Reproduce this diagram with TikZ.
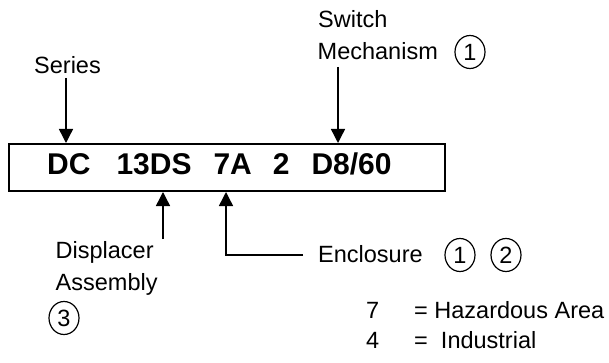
\documentclass[tikz,border=0pt]{standalone}
\usepackage{fontspec}
\setmainfont{Liberation Sans}
\usetikzlibrary{arrows.meta,shapes.geometric}
\begin{document}
\begin{tikzpicture}[x=1pt,y=-1pt,
  lbl/.style={anchor=base west,inner sep=0pt,font=\fontsize{23.5}{28}\selectfont},
  num/.style={draw,ellipse,line width=1.2pt,inner sep=0pt,minimum width=30pt,minimum height=33pt,font=\fontsize{23.5}{28}\selectfont},
  arr/.style={line width=1.4pt,-{Triangle[length=14pt,width=14pt]}},
  codebox/.style={draw,line width=2pt,anchor=north west,inner sep=0pt,minimum width=436pt,minimum height=47pt}]
\useasboundingbox (0,0) rectangle (609,363);
% main box and code
\node[codebox] (box) at (8,143) {};
\node[anchor=base west,inner sep=0pt,font=\fontsize{30}{32}\bfseries\selectfont] (code) at (47,174.5)
  {DC\hspace{26pt}13DS\hspace{22pt}7A\hspace{21pt}2\hspace{22pt}D8/60};
% labels
\node[lbl] (series) at (34,74) {Series};
\node[lbl] (switch) at (318,28) {Switch};
\node[lbl] (mech) at (317.5,60) {Mechanism};
\node[num] (c1a) at (470,52) {1};
\node[lbl] (disp) at (55.5,258) {Displacer};
\node[lbl] (assy) at (55.5,290) {Assembly};
\node[num] (c3) at (64,318) {3};
\node[lbl] (encl) at (318,262) {Enclosure};
\node[num] (c1b) at (460,255) {1};
\node[num] (c2) at (506,255) {2};
\node[lbl] (seven) at (366,318) {7};
\node[lbl] (haz) at (414,318) {= Hazardous Area};
\node[lbl] (four) at (366,348) {4};
\node[lbl] (ind) at (414,348) {=~ Industrial};
% connector anchors
\coordinate (sertop) at (66,78);
\coordinate (swtop) at (338,67);
\coordinate (distop) at (163,239);
\coordinate (encend) at (303,255);
\coordinate (enccorner) at (226,255);
% arrows
\draw[arr] (sertop) -- (sertop |- box.north);
\draw[arr] (swtop) -- (swtop |- box.north);
\draw[arr] (distop) -- (distop |- box.south);
\draw[arr] (encend) -- (enccorner) -- (enccorner |- box.south);
\end{tikzpicture}
\end{document}
